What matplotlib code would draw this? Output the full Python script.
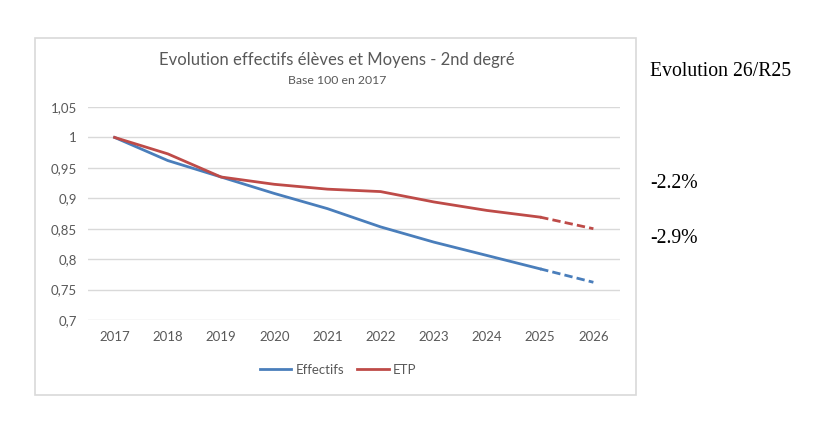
import matplotlib.pyplot as plt
from matplotlib.patches import Rectangle

annees = ["2017", "2018", "2019", "2020", "2021", "2022", "2023", "2024", "2025", "2026"]
effectifs = [1.0, 0.962, 0.935, 0.908, 0.883, 0.853, 0.828, 0.806, 0.784, 0.762]
etp = [1.0, 0.973, 0.935, 0.923, 0.915, 0.911, 0.894, 0.880, 0.869, 0.850]
evolutions = ["-2.2%", "-2.9%"]

bleu = "#4a7ebb"
rouge = "#be4b48"
gris = "#595959"

fig = plt.figure(figsize=(8.14, 4.22), dpi=100)
W, H = 814, 422

# cadre du graphique
fig.patches.append(Rectangle((35 / W, 1 - 395 / H), (636 - 35) / W, (395 - 38) / H,
                             transform=fig.transFigure, fill=False,
                             edgecolor="#d9d9d9", linewidth=1.2))

ax = fig.add_axes([88 / W, 1 - 320 / H, (620 - 88) / W, (320 - 107) / H])
x = list(range(len(annees)))

# partie réalisée (trait plein) puis prévision (pointillés)
ax.plot(x[:9], effectifs[:9], color=bleu, lw=2, label="Effectifs")
ax.plot(x[8:], effectifs[8:], color=bleu, lw=2, ls=(0, (3, 1.5)))
ax.plot(x[:9], etp[:9], color=rouge, lw=2, label="ETP")
ax.plot(x[8:], etp[8:], color=rouge, lw=2, ls=(0, (3, 1.5)))

ax.set_xlim(-0.5, len(annees) - 0.5)
ax.set_ylim(0.7, 1.05)
ax.set_xticks(x)
ax.set_xticklabels(annees)
yt = [0.7, 0.75, 0.8, 0.85, 0.9, 0.95, 1.0, 1.05]
ax.set_yticks(yt)
ax.set_yticklabels(["0,7", "0,75", "0,8", "0,85", "0,9", "0,95", "1", "1,05"])
ax.tick_params(length=0, colors=gris, labelsize=9.5, pad=8)
ax.grid(axis="y", color="#d9d9d9", lw=1)
ax.set_axisbelow(True)
for s in ax.spines.values():
    s.set_visible(False)

for lab in ax.get_xticklabels() + ax.get_yticklabels():
    lab.set_fontfamily("Lato")

fig.text(337 / W, 1 - 60 / H, "Evolution effectifs élèves et Moyens - 2nd degré",
         ha="center", va="center", fontsize=12, color=gris, family="Lato")
fig.text(337 / W, 1 - 80 / H, "Base 100 en 2017",
         ha="center", va="center", fontsize=8.8, color=gris, family="Lato")

fig.legend(loc="center", bbox_to_anchor=(338 / W, 1 - 370 / H), ncol=2, frameon=False,
           prop={"family": "Lato", "size": 9.5}, labelcolor=gris,
           handlelength=2.4, columnspacing=1.0, handletextpad=0.3)

fig.text(650 / W, 1 - 72 / H, "Evolution 26/R25", ha="left", va="center",
         fontsize=14.2, family="Liberation Serif")
fig.text(650 / W, 1 - 183 / H, evolutions[0], ha="left", va="center",
         fontsize=14.2, family="Liberation Serif")
fig.text(650 / W, 1 - 238 / H, evolutions[1], ha="left", va="center",
         fontsize=14.2, family="Liberation Serif")

fig.savefig("out.png", dpi=100)
